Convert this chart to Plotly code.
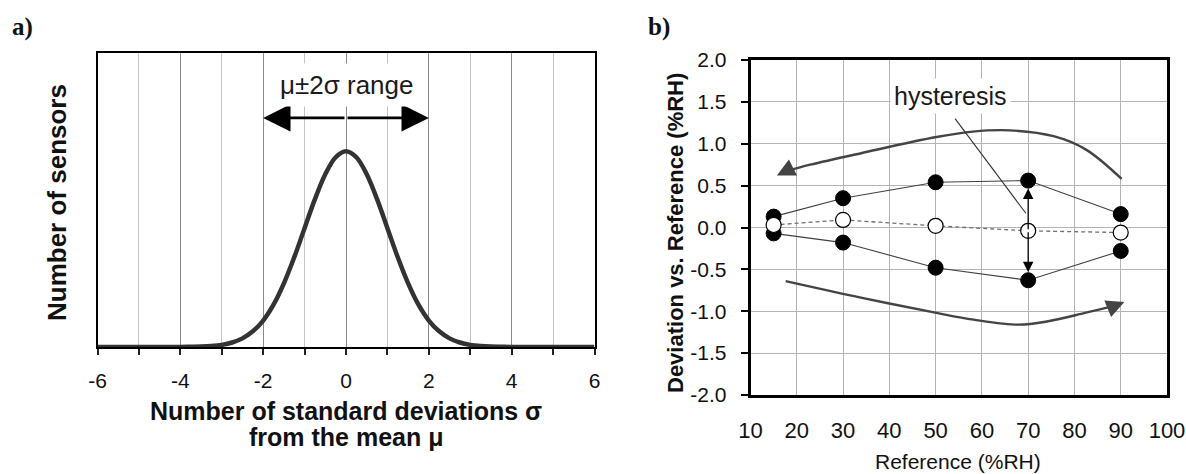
import plotly.graph_objects as go

# ---------------- panel a: distribution of sensor readings ----------------
sigma_x = [-6, -5, -4.5, -4, -3.75, -3.5, -3.25, -3, -2.75, -2.5, -2.25, -2,
           -1.75, -1.5, -1.25, -1, -0.75, -0.5, -0.25, 0, 0.25, 0.5, 0.75, 1,
           1.25, 1.5, 1.75, 2, 2.25, 2.5, 2.75, 3, 3.25, 3.5, 3.75, 4, 4.5, 5, 6]
sensor_count = [0.0, 0.0, 0.0, 0.0, 0.001, 0.002, 0.005, 0.011, 0.023, 0.044,
                0.080, 0.135, 0.216, 0.325, 0.458, 0.607, 0.755, 0.882, 0.969,
                1.0, 0.969, 0.882, 0.755, 0.607, 0.458, 0.325, 0.216, 0.135,
                0.080, 0.044, 0.023, 0.011, 0.005, 0.002, 0.001, 0.0, 0.0, 0.0,
                0.0]
sigma_major_ticks = [-6, -4, -2, 0, 2, 4, 6]
sigma_major_labels = ["-6", "-4", "-2", "0", "2", "4", "6"]
sigma_minor_ticks = [-5, -3, -1, 1, 3, 5]
range_half_width = 2          # mu +/- 2 sigma
range_arrow_level = 1.17
range_label_level = 1.34

# ---------------- panel b: hysteresis of a humidity sensor ----------------
rh_ref = [15, 30, 50, 70, 90]
dev_desorption = [0.13, 0.35, 0.54, 0.56, 0.16]
dev_adsorption = [-0.07, -0.18, -0.48, -0.63, -0.28]
dev_mean = [0.03, 0.09, 0.02, -0.04, -0.06]
rh_ticks = [10, 20, 30, 40, 50, 60, 70, 80, 90, 100]
dev_ticks = [2.0, 1.5, 1.0, 0.5, 0.0, -0.5, -1.0, -1.5, -2.0]
dev_tick_labels = ["2.0", "1.5", "1.0", "0.5", "0.0", "-0.5", "-1.0", "-1.5", "-2.0"]

# sweep-direction guide curves (decreasing RH above, increasing RH below)
sweep_down_x = [90.2, 82.5, 75.5, 66.0, 58.0, 50.2, 34.1, 22.9, 17.5]
sweep_down_y = [0.58, 0.93, 1.09, 1.16, 1.145, 1.08, 0.89, 0.75, 0.67]
sweep_up_x = [17.6, 34.1, 50.2, 58.2, 67.9, 74.3, 82.3, 89.0]
sweep_up_y = [-0.64, -0.84, -1.02, -1.10, -1.16, -1.12, -1.02, -0.93]
hyst_label_pos = (53.2, 1.57)
hyst_leader = [(54.2, 1.30), (69.5, 0.17)]
hyst_index = 3                # the 70 %RH point

W, H = 1186, 474
SANS = "Liberation Sans, Arial, sans-serif"
SERIF = "Liberation Serif, Times New Roman, serif"


def px(x):
    return x / W


def py(y):
    return 1 - y / H


fig = go.Figure()

# Gaussian curve
fig.add_trace(go.Scatter(
    x=sigma_x, y=sensor_count, mode="lines", line=dict(color="#333333", width=4.5, shape="spline"),
    xaxis="x", yaxis="y", showlegend=False, hoverinfo="skip"))

# panel b: mean line + branches
fig.add_trace(go.Scatter(
    x=rh_ref, y=dev_mean, mode="lines", line=dict(color="#707070", width=1.3, dash="4px,3px"),
    xaxis="x2", yaxis="y2", showlegend=False))
fig.add_trace(go.Scatter(
    x=rh_ref, y=dev_desorption, mode="lines+markers",
    line=dict(color="#404040", width=1.1),
    marker=dict(size=15, color="black", line=dict(color="black", width=1)),
    xaxis="x2", yaxis="y2", showlegend=False))
fig.add_trace(go.Scatter(
    x=rh_ref, y=dev_adsorption, mode="lines+markers",
    line=dict(color="#404040", width=1.1),
    marker=dict(size=15, color="black", line=dict(color="black", width=1)),
    xaxis="x2", yaxis="y2", showlegend=False))

# sweep curves
fig.add_trace(go.Scatter(
    x=sweep_down_x, y=sweep_down_y, mode="lines", line=dict(color="#444444", width=2.4, shape="spline"),
    xaxis="x2", yaxis="y2", showlegend=False, hoverinfo="skip"))
fig.add_trace(go.Scatter(
    x=sweep_up_x, y=sweep_up_y, mode="lines", line=dict(color="#444444", width=2.4, shape="spline"),
    xaxis="x2", yaxis="y2", showlegend=False, hoverinfo="skip"))

# hysteresis double arrow at the 70 %RH point
annotations = []
for tip in (dev_desorption[hyst_index], dev_adsorption[hyst_index]):
    annotations.append(dict(
        x=rh_ref[hyst_index], y=tip, ax=rh_ref[hyst_index], ay=dev_mean[hyst_index],
        xref="x2", yref="y2", axref="x2", ayref="y2", showarrow=True,
        arrowhead=2, arrowsize=1.6, arrowwidth=1.3, arrowcolor="black",
        standoff=8, startstandoff=0, text=""))

fig.add_trace(go.Scatter(
    x=rh_ref, y=dev_mean, mode="markers",
    marker=dict(size=15, color="white", line=dict(color="black", width=1.2)),
    xaxis="x2", yaxis="y2", showlegend=False))

# arrowheads of the sweep curves
annotations.append(dict(
    x=sweep_down_x[-1] - 1.8, y=sweep_down_y[-1] - 0.05,
    ax=sweep_down_x[-1], ay=sweep_down_y[-1],
    xref="x2", yref="y2", axref="x2", ayref="y2", showarrow=True,
    arrowhead=2, arrowsize=1.5, arrowwidth=2.4, arrowcolor="#444444", text=""))
annotations.append(dict(
    x=sweep_up_x[-1] + 1.8, y=sweep_up_y[-1] + 0.04,
    ax=sweep_up_x[-1], ay=sweep_up_y[-1],
    xref="x2", yref="y2", axref="x2", ayref="y2", showarrow=True,
    arrowhead=2, arrowsize=1.5, arrowwidth=2.4, arrowcolor="#444444", text=""))

# mu +/- 2 sigma arrows and label
for side in (-range_half_width, range_half_width):
    annotations.append(dict(
        x=side, y=range_arrow_level, ax=0, ay=range_arrow_level,
        xref="x", yref="y", axref="x", ayref="y", showarrow=True,
        arrowhead=2, arrowsize=2.1, arrowwidth=2.6, arrowcolor="black", text=""))
annotations.append(dict(
    x=0, y=range_label_level, xref="x", yref="y", showarrow=False,
    xanchor="center", yanchor="middle",
    text="μ±2σ range", font=dict(family=SANS, size=26, color="#1a1a1a"),
    bgcolor="white", borderpad=6))

annotations.append(dict(
    x=hyst_label_pos[0], y=hyst_label_pos[1], xref="x2", yref="y2", showarrow=False,
    xanchor="center", yanchor="middle",
    text="hysteresis", font=dict(family=SANS, size=25, color="#1a1a1a"),
    bgcolor="white", borderpad=3))


def paper_text(x, y, text, size, family=SANS, angle=0):
    return dict(x=px(x), y=py(y), xref="paper", yref="paper", showarrow=False,
                xanchor="center", yanchor="middle", textangle=angle,
                text=text, font=dict(family=family, size=size, color="#111111"))


annotations += [
    paper_text(57, 202, "<b>Number of sensors</b>", 26, angle=-90),
    paper_text(346, 411, "<b>Number of standard deviations σ</b>", 25),
    paper_text(346, 437, "<b>from the mean μ</b>", 25),
    paper_text(675, 233, "<b>Deviation vs. Reference (%RH)</b>", 22, angle=-90),
    paper_text(958, 461, "Reference (%RH)", 21),
    paper_text(22, 27, "<b>a)</b>", 25, family=SERIF),
    paper_text(659, 27, "<b>b)</b>", 25, family=SERIF),
]

shapes = [dict(
    type="line", xref="x2", yref="y2",
    x0=hyst_leader[0][0], y0=hyst_leader[0][1], x1=hyst_leader[1][0], y1=hyst_leader[1][1],
    line=dict(color="#333333", width=1.1))]

fig.update_layout(
    width=W, height=H, margin=dict(l=0, r=0, t=0, b=0, autoexpand=False),
    paper_bgcolor="white", plot_bgcolor="white",
    annotations=annotations, shapes=shapes,
    xaxis=dict(
        domain=[px(97.5), px(594.5)], range=[-6, 6], anchor="y", automargin=False,
        tickmode="array", tickvals=sigma_major_ticks, ticktext=sigma_major_labels,
        ticks="outside", ticklen=6, tickwidth=1.5, tickcolor="#222222",
        tickfont=dict(family=SANS, size=21, color="#111111"), ticklabelstandoff=8,
        showgrid=True, gridcolor="#8a8a8a", gridwidth=1.4,
        minor=dict(tickvals=sigma_minor_ticks, showgrid=True, gridcolor="#c4c4c4", gridwidth=1,
                   ticks="outside", ticklen=6, tickwidth=1.5, tickcolor="#222222"),
        showline=True, linecolor="black", linewidth=2, mirror=True, zeroline=False),
    yaxis=dict(
        domain=[py(347), py(53.3)], range=[0, 1.5], anchor="x", automargin=False,
        showticklabels=False, ticks="", showgrid=False, zeroline=False,
        showline=True, linecolor="black", linewidth=2, mirror=True),
    xaxis2=dict(
        domain=[px(750.5), px(1167)], range=[10, 100], anchor="y2", automargin=False,
        tickmode="array", tickvals=rh_ticks, ticks="",
        tickfont=dict(family=SANS, size=22, color="#111111"), ticklabelstandoff=14,
        showgrid=True, gridcolor="#b4b4b4", gridwidth=1, zeroline=False,
        showline=True, linecolor="black", linewidth=2.5, mirror=True),
    yaxis2=dict(
        domain=[py(395), py(60)], range=[-2, 2], anchor="x2", automargin=False,
        tickmode="array", tickvals=dev_ticks, ticktext=dev_tick_labels,
        ticks="outside", ticklen=7, tickwidth=1.5, tickcolor="black",
        tickfont=dict(family=SANS, size=21, color="#111111"), ticklabelstandoff=10,
        showgrid=True, gridcolor="#b4b4b4", gridwidth=1, zeroline=False,
        showline=True, linecolor="black", linewidth=2.5, mirror=True),
)

fig.write_html("out.html")
